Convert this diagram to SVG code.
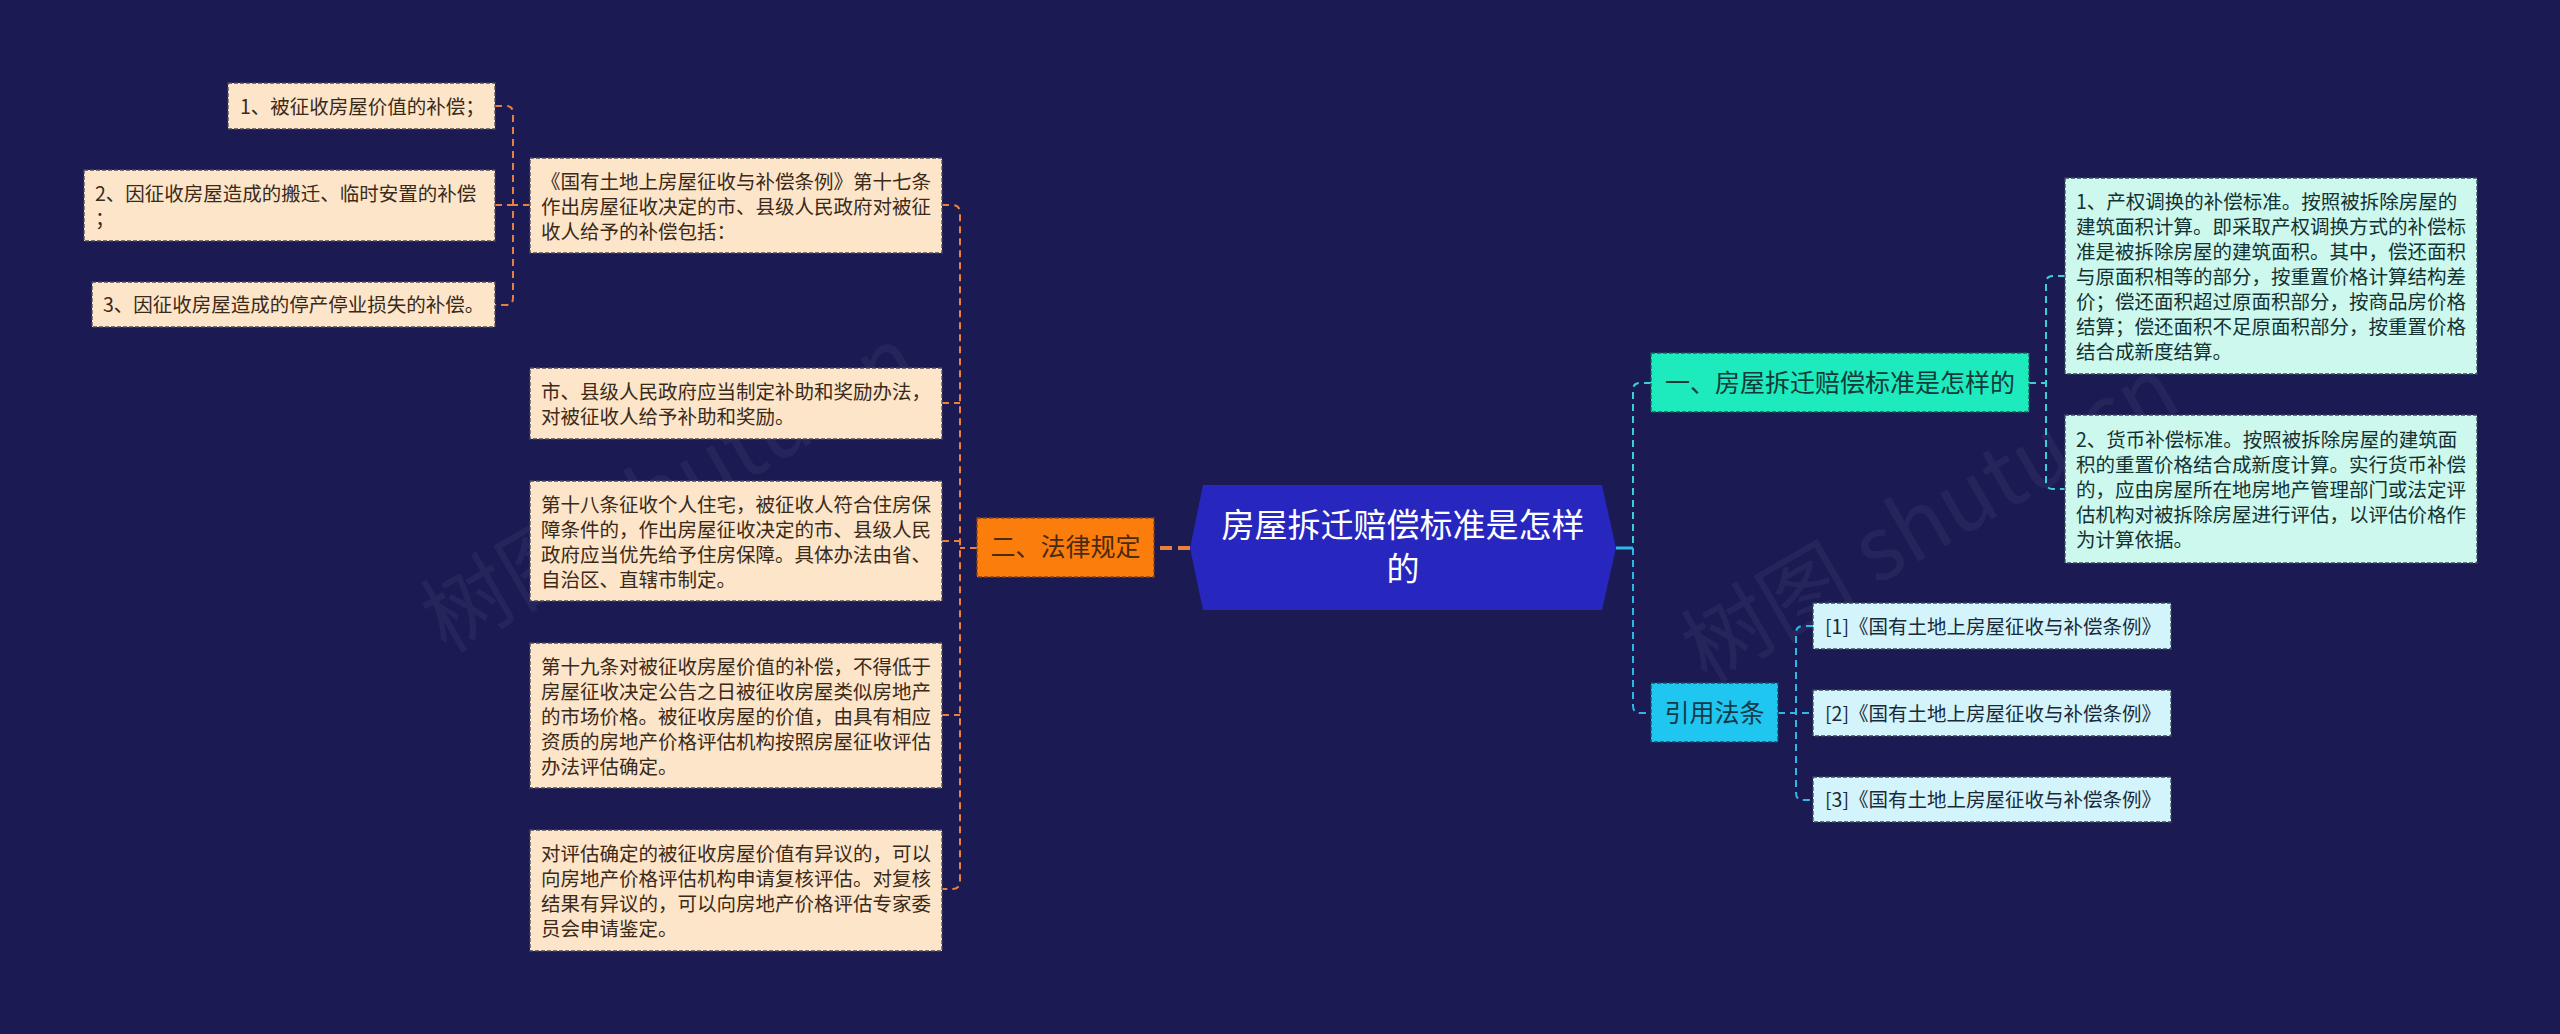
<svg xmlns="http://www.w3.org/2000/svg" width="2560" height="1034" viewBox="0 0 2560 1034">
<style>
text{font-family:"Noto Sans CJK SC","Noto Sans",sans-serif}
.leafL{fill:#fde5c9;stroke:#4a4a5a;stroke-width:1.3;stroke-dasharray:4 2}
.leafR{fill:#cdf8ee;stroke:#3a4a5a;stroke-width:1.3;stroke-dasharray:4 2}
.cite{fill:#d3f4fa;stroke:#3a4a5a;stroke-width:1.3;stroke-dasharray:4 2}
.tL{font-size:19.5px;fill:#3a2a1a}
.tR{font-size:19.5px;fill:#143232}
.tC{font-size:19.5px;fill:#1a2a3a}
.cL{fill:none;stroke:#e8803e;stroke-width:2;stroke-dasharray:7 5}
.cT{fill:none;stroke:#3ccfd9;stroke-width:2;stroke-dasharray:7 5}
.cB{fill:none;stroke:#2db8e6;stroke-width:2;stroke-dasharray:7 5}
.wm{font-size:88px;fill:#ffffff;fill-opacity:0.05}
</style>
<rect x="0" y="0" width="2560" height="1034" fill="#1b1a53"/>
<g id="watermarks">
<text class="wm" x="670" y="520" text-anchor="middle" transform="rotate(-30 670 490)">树图 shutu.cn</text>
<text class="wm" x="1930" y="550" text-anchor="middle" transform="rotate(-30 1930 519)">树图 shutu.cn</text>
</g>
<g id="connectors">
<path d="M1190,548 H1154" fill="none" stroke="#e8803e" stroke-width="4" stroke-dasharray="12 6"/>
<path class="cL" d="M977,548 H960"/>
<path class="cL" d="M942,205 H952 Q960,205 960,213 V881 Q960,889 952,889 H942"/>
<path class="cL" d="M942,403 H960 M942,541 H960 M942,715 H960"/>
<path class="cL" d="M530,205 H513"/>
<path class="cL" d="M495,106 H506 Q513,106 513,113 V298 Q513,305 506,305 H495"/>
<path class="cL" d="M495,205 H513"/>
<path d="M1616,548 H1633" fill="none" stroke="#2db8e6" stroke-width="3"/>
<path class="cT" d="M1651,383 H1640 Q1633,383 1633,390 V548"/>
<path class="cB" d="M1633,548 V706 Q1633,713 1640,713 H1651"/>
<path class="cT" d="M2029,383 H2046"/>
<path class="cT" d="M2065,276 H2053 Q2046,276 2046,283 V482 Q2046,489 2053,489 H2065"/>
<path class="cB" d="M1778,713 H1813"/>
<path class="cB" d="M1813,626 H1803 Q1796,626 1796,633 V793 Q1796,800 1803,800 H1813"/>
</g>
<g id="root">
<polygon points="1190,548 1203,485 1602,485 1616,548 1602,610 1203,610" fill="#2727bf"/>
<text x="1403" y="537" text-anchor="middle" font-size="33" fill="#ffffff">房屋拆迁赔偿标准是怎样</text>
<text x="1403" y="581" text-anchor="middle" font-size="33" fill="#ffffff">的</text>
</g>
<g id="branch-law">
<rect x="977" y="518" width="177" height="59" fill="#fb7d0c" stroke="#8a4210" stroke-width="1.3" stroke-dasharray="4 2"/>
<text x="1065.5" y="555.5" text-anchor="middle" font-size="25" fill="#4a2a10">二、法律规定</text>
</g>
<g id="branch-standard">
<rect x="1651" y="353" width="378" height="59" fill="#1debbd" stroke="#1a5a5a" stroke-width="1.3" stroke-dasharray="4 2"/>
<text x="1840" y="392" text-anchor="middle" font-size="25" fill="#143a3a">一、房屋拆迁赔偿标准是怎样的</text>
</g>
<g id="branch-cite">
<rect x="1651" y="683" width="127" height="59" fill="#1fc6ef" stroke="#1a4a6a" stroke-width="1.3" stroke-dasharray="4 2"/>
<text x="1714.5" y="722" text-anchor="middle" font-size="25" fill="#143a4a">引用法条</text>
</g>
<g id="leaf-art17">
<rect class="leafL" x="530" y="158" width="412" height="95"/>
<text class="tL" x="541" y="188.5">《国有土地上房屋征收与补偿条例》第十七条</text>
<text class="tL" x="541" y="213.5">作出房屋征收决定的市、县级人民政府对被征</text>
<text class="tL" x="541" y="238.5">收人给予的补偿包括：</text>
</g>
<g id="leaf-sub1">
<rect class="leafL" x="228" y="83" width="267" height="46"/>
<text class="tL" x="240" y="113.5">1、被征收房屋价值的补偿；</text>
</g>
<g id="leaf-sub2">
<rect class="leafL" x="84" y="170" width="411" height="71"/>
<text class="tL" x="95" y="200.5">2、因征收房屋造成的搬迁、临时安置的补偿</text>
<text class="tL" x="95" y="225.5">；</text>
</g>
<g id="leaf-sub3">
<rect class="leafL" x="92" y="282" width="403" height="45"/>
<text class="tL" x="103" y="312">3、因征收房屋造成的停产停业损失的补偿。</text>
</g>
<g id="leaf-reward">
<rect class="leafL" x="530" y="368" width="412" height="71"/>
<text class="tL" x="541" y="398.5">市、县级人民政府应当制定补助和奖励办法，</text>
<text class="tL" x="541" y="423.5">对被征收人给予补助和奖励。</text>
</g>
<g id="leaf-art18">
<rect class="leafL" x="530" y="481" width="412" height="120"/>
<text class="tL" x="541" y="511.5">第十八条征收个人住宅，被征收人符合住房保</text>
<text class="tL" x="541" y="536.5">障条件的，作出房屋征收决定的市、县级人民</text>
<text class="tL" x="541" y="561.5">政府应当优先给予住房保障。具体办法由省、</text>
<text class="tL" x="541" y="586.5">自治区、直辖市制定。</text>
</g>
<g id="leaf-art19">
<rect class="leafL" x="530" y="643" width="412" height="145"/>
<text class="tL" x="541" y="673.5">第十九条对被征收房屋价值的补偿，不得低于</text>
<text class="tL" x="541" y="698.5">房屋征收决定公告之日被征收房屋类似房地产</text>
<text class="tL" x="541" y="723.5">的市场价格。被征收房屋的价值，由具有相应</text>
<text class="tL" x="541" y="748.5">资质的房地产价格评估机构按照房屋征收评估</text>
<text class="tL" x="541" y="773.5">办法评估确定。</text>
</g>
<g id="leaf-review">
<rect class="leafL" x="530" y="830" width="412" height="121"/>
<text class="tL" x="541" y="860.5">对评估确定的被征收房屋价值有异议的，可以</text>
<text class="tL" x="541" y="885.5">向房地产价格评估机构申请复核评估。对复核</text>
<text class="tL" x="541" y="910.5">结果有异议的，可以向房地产价格评估专家委</text>
<text class="tL" x="541" y="935.5">员会申请鉴定。</text>
</g>
<g id="leaf-property">
<rect class="leafR" x="2065" y="178" width="412" height="196"/>
<text class="tR" x="2076" y="208.5">1、产权调换的补偿标准。按照被拆除房屋的</text>
<text class="tR" x="2076" y="233.5">建筑面积计算。即采取产权调换方式的补偿标</text>
<text class="tR" x="2076" y="258.5">准是被拆除房屋的建筑面积。其中，偿还面积</text>
<text class="tR" x="2076" y="283.5">与原面积相等的部分，按重置价格计算结构差</text>
<text class="tR" x="2076" y="308.5">价；偿还面积超过原面积部分，按商品房价格</text>
<text class="tR" x="2076" y="333.5">结算；偿还面积不足原面积部分，按重置价格</text>
<text class="tR" x="2076" y="358.5">结合成新度结算。</text>
</g>
<g id="leaf-money">
<rect class="leafR" x="2065" y="415" width="412" height="148"/>
<text class="tR" x="2076" y="446.5">2、货币补偿标准。按照被拆除房屋的建筑面</text>
<text class="tR" x="2076" y="471.5">积的重置价格结合成新度计算。实行货币补偿</text>
<text class="tR" x="2076" y="496.5">的，应由房屋所在地房地产管理部门或法定评</text>
<text class="tR" x="2076" y="521.5">估机构对被拆除房屋进行评估，以评估价格作</text>
<text class="tR" x="2076" y="546.5">为计算依据。</text>
</g>
<g id="cite-1">
<rect class="cite" x="1813" y="603" width="358" height="46"/>
<text class="tC" x="1825" y="633.5">[1]《国有土地上房屋征收与补偿条例》</text>
</g>
<g id="cite-2">
<rect class="cite" x="1813" y="690" width="358" height="46"/>
<text class="tC" x="1825" y="720.5">[2]《国有土地上房屋征收与补偿条例》</text>
</g>
<g id="cite-3">
<rect class="cite" x="1813" y="777" width="358" height="45"/>
<text class="tC" x="1825" y="807">[3]《国有土地上房屋征收与补偿条例》</text>
</g>
</svg>
